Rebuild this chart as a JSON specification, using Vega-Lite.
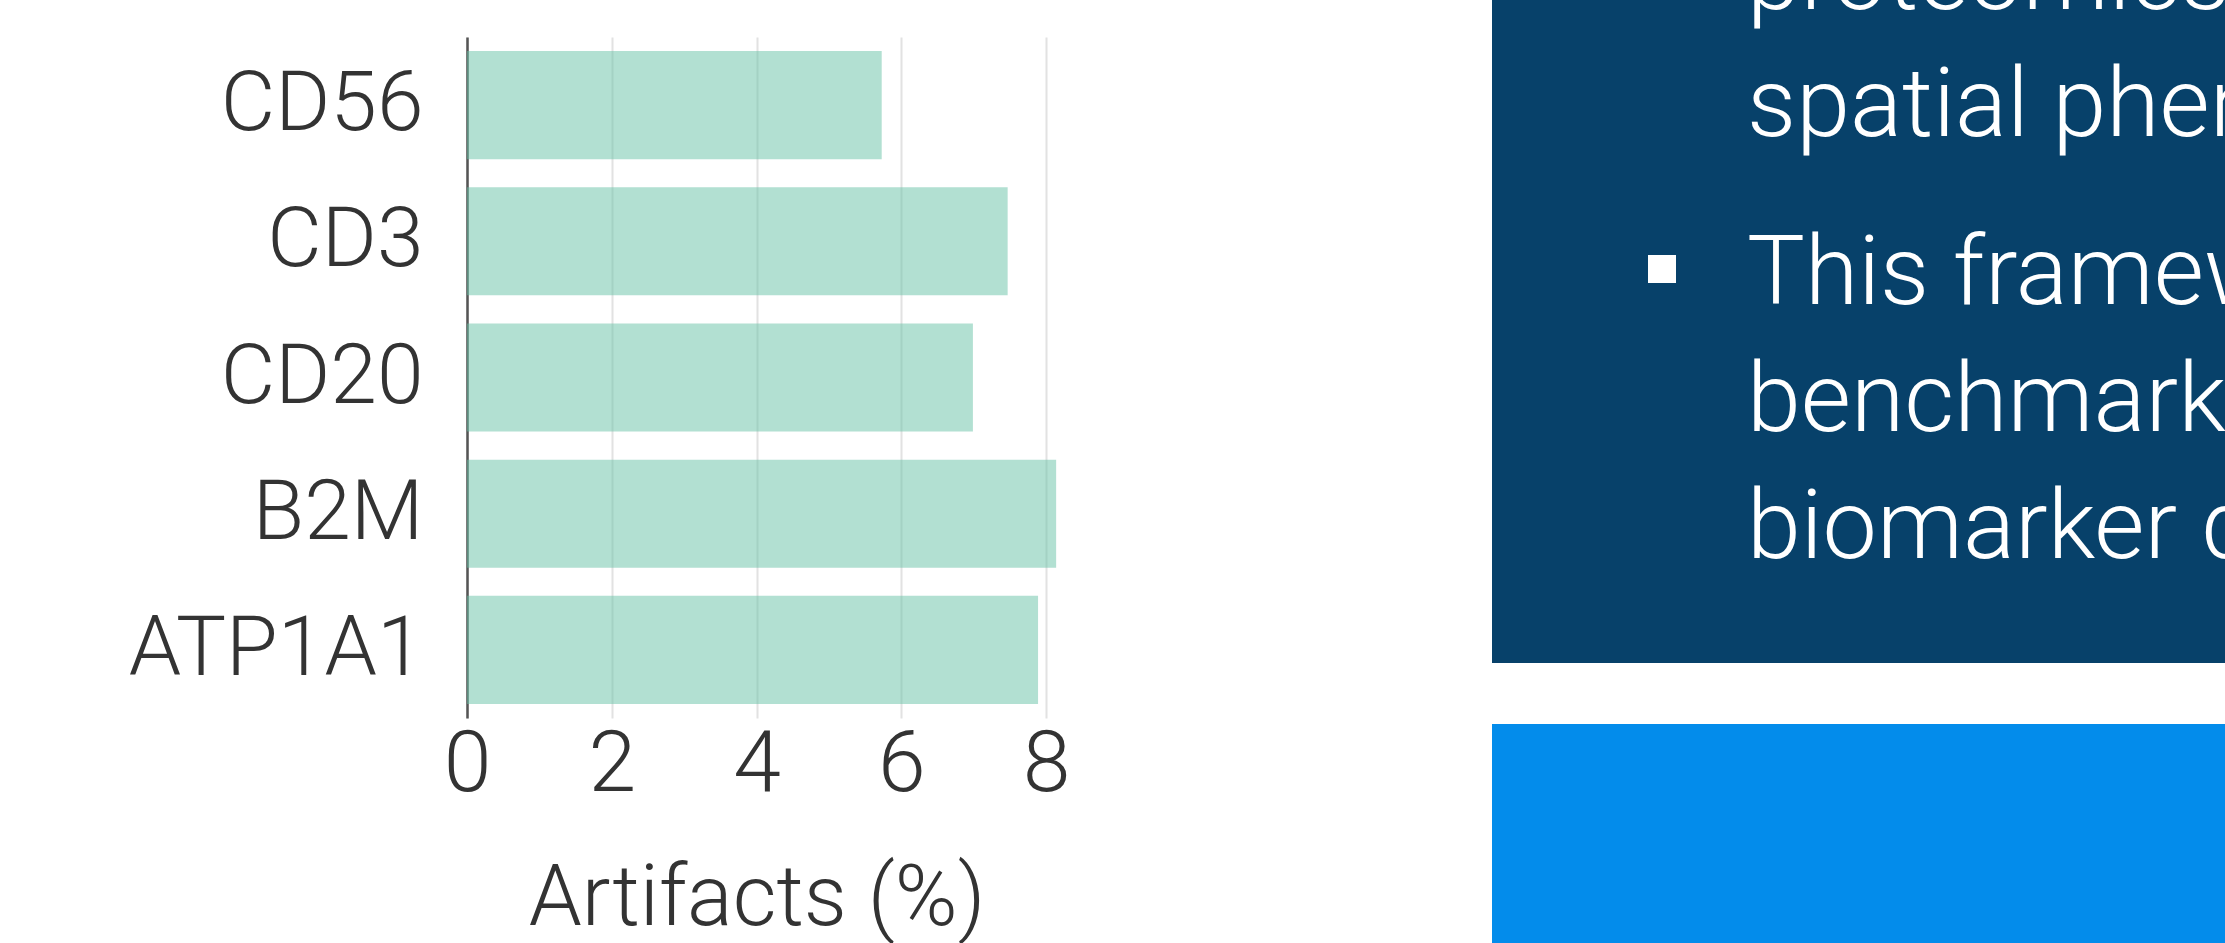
{
  "$schema": "https://vega.github.io/schema/vega-lite/v6.json",
  "background": "white",
  "padding": {"left": 128, "top": 0, "right": 0, "bottom": 0},
  "autosize": {"type": "pad"},
  "config": {"view": {"stroke": null}, "font": "Roboto"},
  "spacing": 422,
  "hconcat": [
    {
      "spacing": 0,
      "vconcat": [
        {
          "width": 579,
          "height": 37,
          "data": {"values": [{"note": ""}]},
          "mark": {"type": "text"},
          "encoding": {"text": {"field": "note", "type": "nominal"}}
        },
        {
          "width": 579,
          "height": 681,
          "data": {"values": [
            {"marker": "CD56", "artifacts": 5.73},
            {"marker": "CD3", "artifacts": 7.47},
            {"marker": "CD20", "artifacts": 6.99},
            {"marker": "B2M", "artifacts": 8.14},
            {"marker": "ATP1A1", "artifacts": 7.89}
          ]},
          "mark": {"type": "bar", "color": "#66c2a5", "opacity": 0.5},
          "encoding": {
            "y": {
              "field": "marker", "type": "nominal", "sort": null,
              "scale": {"paddingInner": 0.206, "paddingOuter": 0.103},
              "axis": {"title": null, "ticks": false, "grid": false, "domain": true, "domainColor": "#555555", "domainWidth": 2.5, "labelPadding": 44, "labelLimit": 0, "labelFontSize": 84, "labelFont": "Roboto", "labelFontWeight": 300, "labelColor": "#333333"}
            },
            "x": {
              "field": "artifacts", "type": "quantitative",
              "scale": {"domain": [0, 8], "nice": false},
              "axis": {"title": "Artifacts (%)", "values": [0, 2, 4, 6, 8], "ticks": false, "domain": false, "grid": true, "gridColor": "#e2e2e2", "gridWidth": 2, "labelFlush": false, "labelPadding": 4, "labelFont": "Roboto", "labelFontSize": 86, "labelFontWeight": 300, "labelColor": "#333333", "titleFont": "Roboto", "titleFontSize": 85, "titleFontWeight": 300, "titleColor": "#333333", "titlePadding": 50}
            }
          }
        }
      ]
    },
    {
      "spacing": 61,
      "vconcat": [
        {
          "width": 733,
          "height": 663,
          "view": {"fill": "#07416a", "stroke": null},
          "data": {"values": [
            {"para": 1, "bullet": false, "lines": ["proteomics data to quantify", "spatial phenotypes."]},
            {"para": 2, "bullet": true, "lines": ["This framework enables", "benchmarking of", "biomarker discovery."]}
          ]},
          "layer": [
            {
              "transform": [{"filter": "datum.bullet"}],
              "mark": {"type": "point", "shape": "square", "filled": true, "size": 784, "color": "white", "opacity": 1, "strokeWidth": 0, "yOffset": -35, "clip": true},
              "encoding": {
                "x": {"datum": 0, "type": "quantitative", "scale": {"domain": [-2, 6.624], "nice": false, "zero": false}, "axis": null},
                "y": {"field": "para", "type": "quantitative", "scale": {"domain": [0.9695, 3.217], "nice": false, "zero": false, "reverse": true}, "axis": null}
              }
            },
            {
              "mark": {"type": "text", "align": "left", "baseline": "alphabetic", "color": "white", "font": "Roboto", "fontWeight": 300, "fontSize": 97, "lineHeight": 127, "clip": true},
              "encoding": {
                "x": {"datum": 1, "type": "quantitative"},
                "y": {"field": "para", "type": "quantitative"},
                "text": {"field": "lines", "type": "nominal"}
              }
            }
          ]
        },
        {
          "width": 733,
          "height": 219,
          "view": {"fill": "#038ceb", "stroke": null},
          "data": {"values": [{"heading": ""}]},
          "mark": {"type": "text"},
          "encoding": {"text": {"field": "heading", "type": "nominal"}}
        }
      ]
    }
  ]
}
